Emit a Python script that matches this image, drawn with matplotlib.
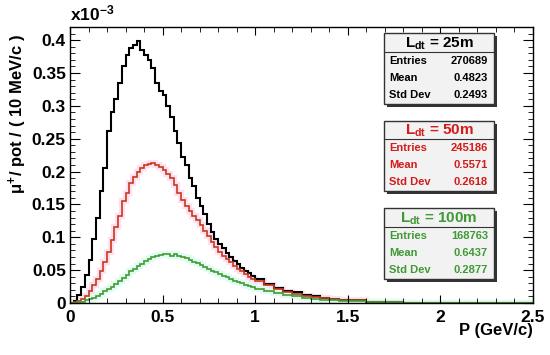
import matplotlib
matplotlib.use('Agg')
import matplotlib.pyplot as plt
from matplotlib.patches import Rectangle
from matplotlib.ticker import MultipleLocator

plt.rcParams['font.family'] = ['Liberation Sans', 'DejaVu Sans']
plt.rcParams['font.weight'] = 'bold'
plt.rcParams['mathtext.fontset'] = 'custom'
plt.rcParams['mathtext.rm'] = 'Liberation Sans:bold'
plt.rcParams['mathtext.bf'] = 'Liberation Sans:bold'
plt.rcParams['mathtext.it'] = 'Liberation Sans:bold'

# bin low edges (GeV/c); last edge closes the axis range
p_lo = [0.00, 0.02, 0.04, 0.06, 0.08, 0.10, 0.12, 0.14, 0.16, 0.18,
        0.20, 0.22, 0.24, 0.26, 0.28, 0.30, 0.32, 0.34, 0.36, 0.38,
        0.40, 0.42, 0.44, 0.46, 0.48, 0.50, 0.52, 0.54, 0.56, 0.58,
        0.60, 0.62, 0.64, 0.66, 0.68, 0.70, 0.72, 0.74, 0.76, 0.78,
        0.80, 0.82, 0.84, 0.86, 0.88, 0.90, 0.92, 0.94, 0.96, 0.98,
        1.00, 1.05, 1.10, 1.15, 1.20, 1.25, 1.30, 1.35, 1.40, 1.45, 1.50,
        1.6, 1.7, 1.8, 1.9, 2.0]
p_end = 2.5

# mu+/pot per 10 MeV/c, in units of 1e-3
l25 = [0, 0.003, 0.012, 0.025, 0.042, 0.065, 0.097, 0.13, 0.17, 0.205,
       0.262, 0.29, 0.31, 0.335, 0.36, 0.378, 0.388, 0.393, 0.398, 0.385,
       0.378, 0.37, 0.357, 0.335, 0.322, 0.316, 0.3, 0.283, 0.262, 0.243,
       0.222, 0.21, 0.19, 0.178, 0.16, 0.148, 0.135, 0.12, 0.108, 0.097,
       0.09, 0.083, 0.076, 0.07, 0.064, 0.059, 0.054, 0.049, 0.045, 0.041,
       0.037, 0.029, 0.023, 0.019, 0.016, 0.012, 0.01, 0.008, 0.006, 0.005, 0.004,
       0.002, 0.001, 0.0005, 0.0002, 0]
l50 = [0, 0.001, 0.003, 0.006, 0.011, 0.018, 0.027, 0.037, 0.048, 0.062,
       0.077, 0.096, 0.115, 0.133, 0.155, 0.168, 0.182, 0.192, 0.2, 0.206,
       0.21, 0.212, 0.213, 0.21, 0.207, 0.203, 0.197, 0.19, 0.18, 0.168,
       0.157, 0.148, 0.14, 0.132, 0.126, 0.118, 0.11, 0.102, 0.093, 0.085,
       0.078, 0.072, 0.067, 0.062, 0.057, 0.052, 0.048, 0.044, 0.04, 0.036,
       0.033, 0.027, 0.021, 0.017, 0.014, 0.011, 0.009, 0.007, 0.006, 0.005, 0.004,
       0.002, 0.001, 0.0005, 0.0002, 0]
l100 = [0, 0.0003, 0.001, 0.002, 0.004, 0.006, 0.008, 0.011, 0.014, 0.018,
        0.021, 0.025, 0.029, 0.033, 0.038, 0.043, 0.048, 0.052, 0.056, 0.06,
        0.064, 0.067, 0.07, 0.071, 0.073, 0.074, 0.074, 0.071, 0.074, 0.072,
        0.07, 0.068, 0.066, 0.063, 0.061, 0.058, 0.055, 0.052, 0.049, 0.047,
        0.044, 0.041, 0.039, 0.036, 0.034, 0.032, 0.03, 0.028, 0.026, 0.024,
        0.022, 0.018, 0.015, 0.012, 0.01, 0.008, 0.0065, 0.005, 0.004, 0.003, 0.0025,
        0.0015, 0.001, 0.0005, 0.0003, 0]

box_titles = ['25m', '50m', '100m']
entries = ['270689', '245186', '168763']
means = ['0.4823', '0.5571', '0.6437']
stddevs = ['0.2493', '0.2618', '0.2877']

red = '#c63a1c'
green = '#449a33'
txt_colors = ['black', '#d41a1a', '#3f9a35']

edges = p_lo + [p_end]

fig = plt.figure(figsize=(5.5, 3.55), dpi=100)
ax = fig.add_axes([70 / 550, 52 / 355, 463 / 550, 276 / 355])

# error bands (faint) then the lines
ax.stairs(l50, edges, color='#ffe0f3', lw=4.5, baseline=None)
ax.stairs(l100, edges, color='#e0fbf2', lw=4.5, baseline=None)
ax.stairs(l25, edges, color='black', lw=1.5, baseline=None)
ax.stairs(l50, edges, color=red, lw=1.2, baseline=None)
ax.stairs(l100, edges, color=green, lw=1.2, baseline=None)

ax.set_xlim(0, 2.5)
ax.set_ylim(0, 0.42)
ax.xaxis.set_minor_locator(MultipleLocator(0.1))
ax.yaxis.set_minor_locator(MultipleLocator(0.01))
ax.set_xticks([0, 0.5, 1, 1.5, 2, 2.5], ['0', '0.5', '1', '1.5', '2', '2.5'])
ax.set_yticks([0, 0.05, 0.1, 0.15, 0.2, 0.25, 0.3, 0.35, 0.4],
              ['0', '0.05', '0.1', '0.15', '0.2', '0.25', '0.3', '0.35', '0.4'])
ax.tick_params(which='both', direction='in', top=True, right=True, labelsize=12.5)
ax.tick_params(axis='x', which='major', length=6, pad=5)
ax.tick_params(axis='x', which='minor', length=3.5)
ax.tick_params(axis='y', which='major', length=7, pad=3)
ax.tick_params(axis='y', which='minor', length=3.5)
for lab in ax.get_xticklabels() + ax.get_yticklabels():
    lab.set_fontweight('bold')
for s in ax.spines.values():
    s.set_linewidth(1)

fig.text(70 / 550, 1 - 13 / 355, r'x10$^{-3}$', fontsize=12.5, fontweight='bold',
         ha='left', va='center')
fig.text(533 / 550, 1 - 331 / 355, 'P (GeV/c)', fontsize=12, fontweight='bold',
         ha='right', va='center')
fig.text(18 / 550, 1 - 34 / 355, r'$\mu^{+}$/ pot / ( 10 MeV/c )',
         fontsize=12, fontweight='bold', rotation=90, ha='center', va='top')

# stat boxes, in figure pixels: top, title bottom, bottom
boxes = [(33, 52, 104), (121, 139, 191), (208, 227, 279)]
bx0, bx1 = 384, 494
W, H = 550, 355
for i, (top, tb, bot) in enumerate(boxes):
    c = txt_colors[i]
    # shadow
    fig.patches.append(Rectangle((bx0 + 2.5, H - bot - 2.5), bx1 - bx0, bot - top,
                                 transform=None, facecolor='#333333', edgecolor='none',
                                 zorder=5))
    fig.patches.append(Rectangle((bx0, H - bot), bx1 - bx0, bot - top, transform=None,
                                 facecolor='#f2f2f2', edgecolor='#333333', lw=1,
                                 zorder=6))
    fig.lines.append(plt.Line2D([bx0, bx1], [H - tb, H - tb], transform=None,
                                color='#333333', lw=0.8, zorder=7))
    fig.text((bx0 + bx1) / 2 / W, 1 - (top + tb) / 2 / H - 0.003,
             r'L$_{\rm dt}$ = ' + box_titles[i], color=c, fontsize=11,
             fontweight='bold', ha='center', va='center', zorder=8)
    rows = ['Entries', 'Mean', 'Std Dev']
    vals = [entries[i], means[i], stddevs[i]]
    rh = (bot - tb) / 3
    for j in range(3):
        yy = 1 - (tb + rh * (j + 0.5)) / H
        fig.text((bx0 + 5) / W, yy, rows[j], color=c, fontsize=8, fontweight='bold',
                 ha='left', va='center', zorder=8)
        fig.text((bx1 - 6) / W, yy, vals[j], color=c, fontsize=8, fontweight='bold',
                 ha='right', va='center', zorder=8)

fig.savefig('out.png', dpi=100)
